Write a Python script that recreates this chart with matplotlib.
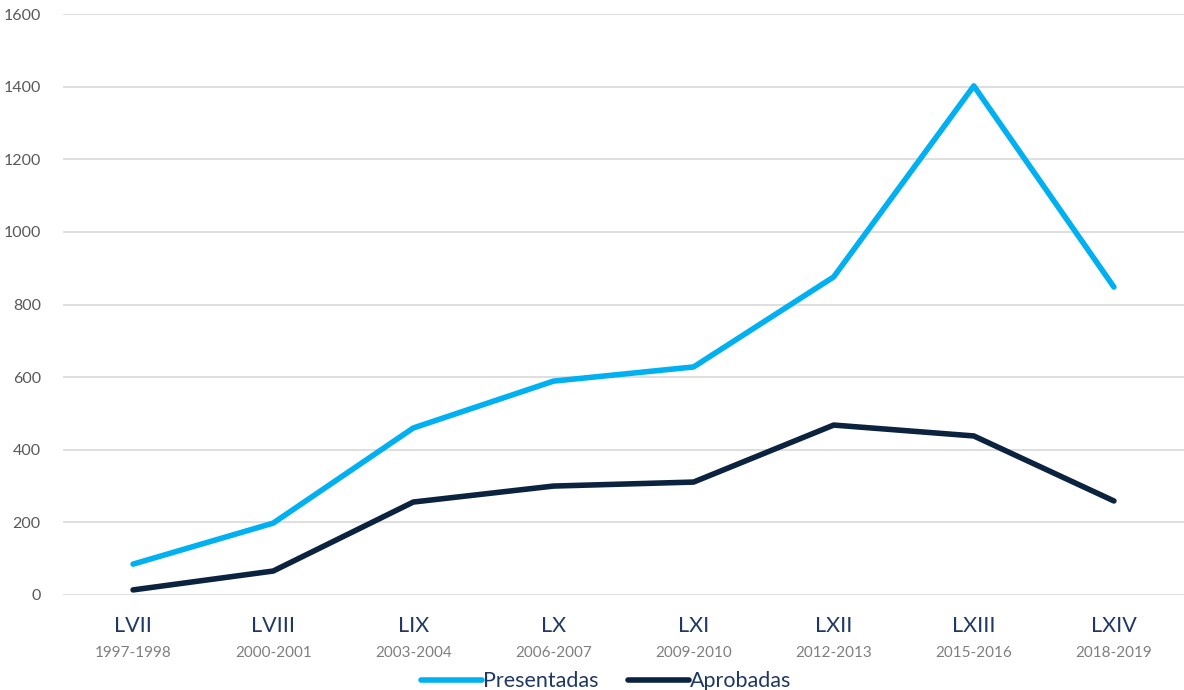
import matplotlib.pyplot as plt

legislaturas = ["LVII", "LVIII", "LIX", "LX", "LXI", "LXII", "LXIII", "LXIV"]
periodos = ["1997-1998", "2000-2001", "2003-2004", "2006-2007",
            "2009-2010", "2012-2013", "2015-2016", "2018-2019"]
presentadas = [85, 198, 460, 589, 628, 876, 1402, 848]
aprobadas = [14, 66, 256, 300, 311, 468, 438, 259]

AZUL_CLARO = "#00B0F0"
AZUL_OSCURO = "#0C2340"
NAVY_TXT = "#1F3864"

plt.rcParams["font.family"] = ["Lato", "DejaVu Sans"]

fig = plt.figure(figsize=(11.84, 6.9), dpi=100)
ax = fig.add_axes([63 / 1184, 1 - 595 / 690, 1 - 63 / 1184, (595 - 14) / 690])

x = list(range(len(legislaturas)))
ax.plot(x, presentadas, color=AZUL_CLARO, lw=4, solid_capstyle="round",
        label="Presentadas")
ax.plot(x, aprobadas, color=AZUL_OSCURO, lw=4, solid_capstyle="round",
        label="Aprobadas")

ax.set_xlim(-0.5, len(legislaturas) - 0.5)
ax.set_ylim(0, 1600)
ax.set_yticks(range(0, 1601, 200))
ax.tick_params(axis="y", length=0, pad=16, labelsize=11.5, labelcolor="#595959")
ax.grid(axis="y", color="#D9D9D9", lw=1.2)
ax.set_axisbelow(True)
for s in ax.spines.values():
    s.set_visible(False)

ax.set_xticks(x)
ax.set_xticklabels(legislaturas, fontsize=15.5, color=NAVY_TXT)
ax.tick_params(axis="x", length=0, pad=15)
for i, p in enumerate(periodos):
    ax.text(i, -0.1, p, transform=ax.get_xaxis_transform(), ha="center",
            va="center", fontsize=11, color="#7F7F7F")

leg = fig.legend(loc="lower center", bbox_to_anchor=(0.512, -0.03), ncol=2,
                 frameon=False, fontsize=15.5, handlelength=2.8,
                 handletextpad=0.05, columnspacing=1.4)
for t in leg.get_texts():
    t.set_color(NAVY_TXT)

fig.savefig("out.png", dpi=100)
